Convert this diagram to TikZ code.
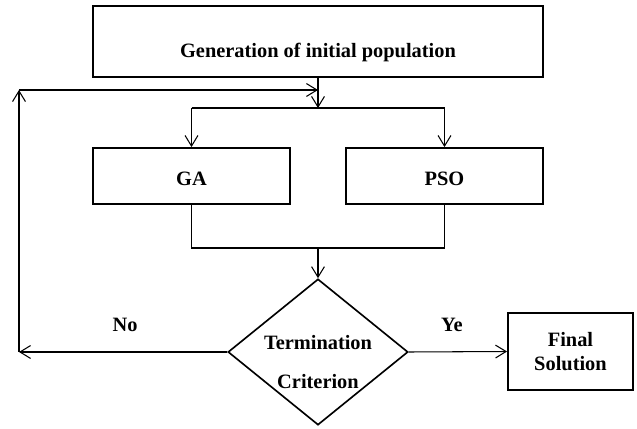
\documentclass[tikz,border=0pt]{standalone}
\usepackage{fontspec}
\setmainfont{Liberation Serif}
\usetikzlibrary{shapes.geometric, arrows.meta}

\begin{document}
\begin{tikzpicture}[x=0.03cm, y=-0.03cm, >={Straight Barb[length=9pt, width=11pt]},
    every node/.style={font=\fontsize{17.4}{20}\selectfont\bfseries},
    box/.style={draw, line width=1.6pt, rectangle, inner sep=0pt},
    decision/.style={draw, line width=1.4pt, diamond, inner sep=0pt,
        minimum width=5.4cm, minimum height=4.38cm},
    link/.style={line width=0.9pt}]

\useasboundingbox (0,0) rectangle (637,429);

% --- Blocks ---
\node[box, minimum width=13.5cm, minimum height=2.13cm, text height=27pt, text depth=0pt]
    (init) at (318,41.5) {Generation of initial population};
\node[box, minimum width=5.91cm, minimum height=1.68cm, text height=17pt, text depth=0pt]
    (ga) at (191.5,176) {GA};
\node[box, minimum width=5.91cm, minimum height=1.68cm, text height=17pt, text depth=0pt]
    (pso) at (444.5,176) {PSO};

% --- Decision ---
\node[decision] (dec) at (318,352) {};
\node[align=center] (crit) at ([yshift=-3mm]dec.center) {Termination\\[14pt]Criterion};

\node[box, minimum width=3.75cm, minimum height=2.31cm, align=center]
    (final) at (570.5,351.5) {Final\\Solution};

% --- Branch points ---
\coordinate (split) at (318,108);
\coordinate (join) at (318,248);
\coordinate (loop) at (19,90);
\coordinate (back) at (19,352);

% --- Connectors ---
\draw[link,->] (init.south) -- (split);
\draw[link] (ga.north |- split) -- (pso.north |- split);
\draw[link,->] (ga.north |- split) -- (ga.north);
\draw[link,->] (pso.north |- split) -- (pso.north);
\draw[link] (ga.south) |- (join) -| (pso.south);
\draw[link,->] (join) -- (dec.north);
\draw[link,->] (dec.east) -- (final.west);

% feedback loop
\draw[link,->] (dec.west) -- (back);
\draw[link,->] (back) -- (loop);
\draw[link,->] (loop) -- (init.south |- loop);

% --- Labels ---
\node (no) at (125,325) {No};
\node (ye) at (452,325) {Ye};

\end{tikzpicture}
\end{document}
